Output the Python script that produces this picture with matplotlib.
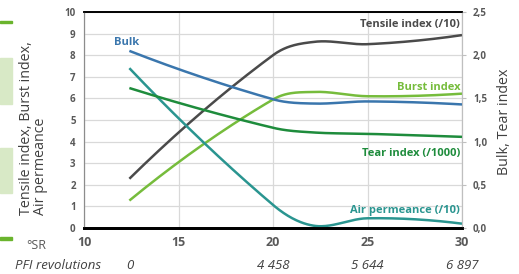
import matplotlib
matplotlib.use("Agg")
import matplotlib.pyplot as plt
import numpy as np

plt.rcParams['font.family'] = ['Open Sans', 'DejaVu Sans']

# degree of beating (°SR) for each sample
sr = [12.4, 20, 22.2, 25, 30]

# left axis series
tensile = [2.28, 8.0, 8.62, 8.51, 8.93]      # Tensile index (/10)
burst = [1.27, 5.95, 6.3, 6.1, 6.22]         # Burst index
air = [7.4, 1.07, 0.1, 0.45, 0.2]            # Air permeance (/10)

# right axis series
bulk = [2.05, 1.49, 1.44, 1.465, 1.43]       # Bulk
tear = [1.62, 1.16, 1.105, 1.09, 1.055]      # Tear index (/1000)

sr_ticks = [10, 15, 20, 25, 30]
pfi_pos = [12.4, 20, 25, 30]
pfi_labels = ["0", "4 458", "5 644", "6 897"]

left_ticks = list(range(0, 11))
right_ticks = [0, 0.5, 1.0, 1.5, 2.0, 2.5]

C_TENSILE = "#4a4a4a"
C_BURST = "#76bc3c"
C_AIR = "#2a9590"
C_BULK = "#3a76ad"
C_TEAR = "#1e8c3c"
TXT = "#595959"


def smooth(x, y, n=40):
    # cubic Hermite through the points, like Excel's smoothed lines
    x = np.asarray(x, float)
    y = np.asarray(y, float)
    m = np.zeros_like(y)
    for i in range(1, len(x) - 1):
        m[i] = (y[i + 1] - y[i - 1]) / (x[i + 1] - x[i - 1])
    m[0] = 2 * (y[1] - y[0]) / (x[1] - x[0]) - m[1]
    m[-1] = 2 * (y[-1] - y[-2]) / (x[-1] - x[-2]) - m[-2]
    xs, ys = [], []
    for i in range(len(x) - 1):
        h = x[i + 1] - x[i]
        t = np.linspace(0, 1, n)
        h00 = 2 * t**3 - 3 * t**2 + 1
        h10 = t**3 - 2 * t**2 + t
        h01 = -2 * t**3 + 3 * t**2
        h11 = t**3 - t**2
        xs.append(x[i] + t * h)
        ys.append(h00 * y[i] + h10 * h * m[i] + h01 * y[i + 1] + h11 * h * m[i + 1])
    return np.concatenate(xs), np.concatenate(ys)


fig = plt.figure(figsize=(5.19, 2.74), dpi=100)
ax = fig.add_axes([84 / 519, 46 / 274, 378 / 519, 216 / 274])
ax2 = ax.twinx()

for ys, c in [(tensile, C_TENSILE), (burst, C_BURST), (air, C_AIR)]:
    sx, sy = smooth(sr, ys)
    ax.plot(sx, sy, color=c, lw=1.8, solid_capstyle='butt', zorder=3)
for ys, c in [(bulk, C_BULK), (tear, C_TEAR)]:
    sx, sy = smooth(sr, ys)
    ax2.plot(sx, sy, color=c, lw=1.8, solid_capstyle='butt', zorder=3)

ax.set_xlim(10, 30)
ax.set_ylim(0, 10)
ax2.set_ylim(0, 2.5)

ax.set_yticks(left_ticks)
ax.set_yticklabels([str(v) for v in left_ticks], fontsize=7, fontweight='bold', color=TXT)
ax2.set_yticks(right_ticks)
ax2.set_yticklabels([f"{v:.1f}".replace(".", ",") for v in right_ticks],
                    fontsize=7, fontweight='bold', color=TXT)
ax.set_xticks(sr_ticks)
ax.set_xticklabels([str(v) for v in sr_ticks], fontsize=9, fontweight='bold', color=TXT)

ax.grid(True, color="#d9d9d9", lw=0.9, zorder=0)
ax.set_axisbelow(True)
ax.tick_params(axis='y', length=0, pad=6)
ax.tick_params(axis='x', length=0, pad=6)
ax2.tick_params(axis='y', length=3, color="#bfbfbf", pad=5)

for a in (ax, ax2):
    a.spines['top'].set_color('black')
    a.spines['top'].set_linewidth(1.2)
    a.spines['bottom'].set_color('black')
    a.spines['bottom'].set_linewidth(2)
    a.spines['left'].set_color('#8c8c8c')
    a.spines['left'].set_linewidth(0.8)
    a.spines['right'].set_color('#bfbfbf')
    a.spines['right'].set_linewidth(0.8)

# axis titles (left one is left-aligned, so both lines start at the bottom)
fig.text(33.5 / 519, 1 - 215 / 274, "Tensile index, Burst index,\nAir permeance",
         rotation=90, ha='center', va='bottom', multialignment='left',
         fontsize=10.3, color="#404040", linespacing=0.95)
fig.text(505 / 519, 1 - 121.5 / 274, "Bulk, Tear index", rotation=90,
         ha='center', va='center', fontsize=10.3, color="#404040")

# series labels
lab = dict(fontsize=8, fontweight='bold', ha='right', va='center')
ax.text(29.9, 9.4, "Tensile index (/10)", color=C_TENSILE, **lab)
ax.text(29.9, 6.5, "Burst index", color=C_BURST, **lab)
ax.text(29.9, 3.45, "Tear index (/1000)", color=C_TEAR, **lab)
ax.text(29.9, 0.8, "Air permeance (/10)", color=C_AIR, **lab)
ax.text(11.6, 8.6, "Bulk", color=C_BULK, fontsize=8, fontweight='bold', ha='left', va='center')

# extra axis rows below
tr = ax.get_xaxis_transform()
ax.text(-0.127, -0.08, "°SR", transform=ax.transAxes, fontsize=9, color=TXT,
        ha='center', va='center')
ax.text(-0.069, -0.175, "PFI revolutions", transform=ax.transAxes, fontsize=9.5,
        style='italic', color="#404040", ha='center', va='center')
for p, s in zip(pfi_pos, pfi_labels):
    ax.text(p, -0.175, s, transform=tr, fontsize=9.5, style='italic',
            color="#404040", ha='center', va='center')

# decorative strips at the left edge
fig.patches.append(plt.Rectangle((0, 1 - 23 / 274), 12 / 519, 2.5 / 274,
                                 transform=fig.transFigure, color="#6ab42d"))
fig.patches.append(plt.Rectangle((0, 1 - 104 / 274), 12 / 519, 46 / 274,
                                 transform=fig.transFigure, color="#d8e9c6"))
fig.patches.append(plt.Rectangle((0, 1 - 193 / 274), 12 / 519, 45 / 274,
                                 transform=fig.transFigure, color="#d8e9c6"))
fig.patches.append(plt.Rectangle((0, 1 - 239.5 / 274), 12 / 519, 2.5 / 274,
                                 transform=fig.transFigure, color="#6ab42d"))

fig.savefig("out.png", dpi=100)
